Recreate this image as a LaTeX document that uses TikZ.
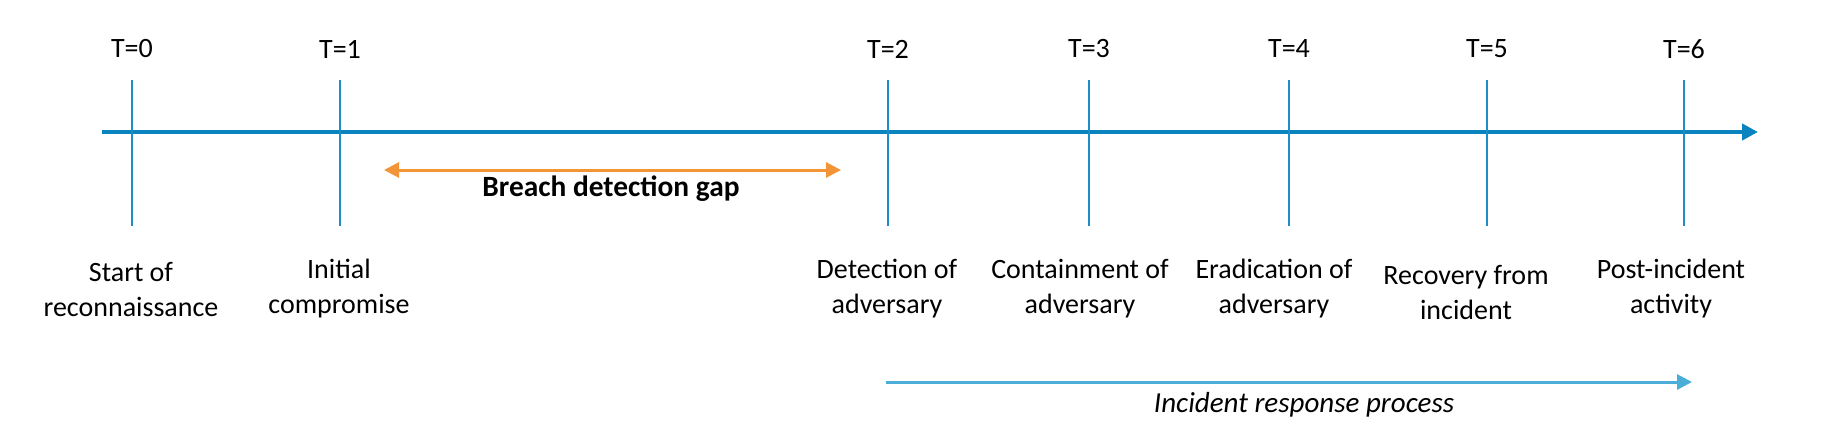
\documentclass[tikz,border=0pt]{standalone}
\usepackage{fontspec}
\setmainfont{Carlito}
\usetikzlibrary{arrows.meta}
\definecolor{axisblue}{HTML}{0A84BF}
\definecolor{tickblue}{HTML}{1E8DC6}
\definecolor{gaporange}{HTML}{F39436}
\definecolor{irblue}{HTML}{4BAED8}
\tikzset{
  lbl/.style={font=\fontsize{14}{17.5}\selectfont, align=center, inner sep=0pt},
  tick/.style={draw=tickblue, line width=0.6pt},
}

\begin{document}
\begin{tikzpicture}[x=0.5pt, y=-0.5pt]
	\useasboundingbox (0,0) rectangle (1834,434);

	% time axis
	\coordinate (axisstart) at (102,132);
	\coordinate (axisend) at (1758,132);
	\draw[axisblue, line width=2.4pt, -{Triangle[length=8pt,width=8pt]}] (axisstart) -- (axisend);

	% ticks
	\node[lbl] (t0) at (132,49) {T=0};
	\node[lbl] (t1) at (340,49) {T=1};
	\node[lbl] (t2) at (888,49) {T=2};
	\node[lbl] (t3) at (1089,49) {T=3};
	\node[lbl] (t4) at (1289,49) {T=4};
	\node[lbl] (t5) at (1487,49) {T=5};
	\node[lbl] (t6) at (1684,49) {T=6};

	\coordinate (t0a) at (132,80);  \coordinate (t0b) at (132,226);
	\coordinate (t1a) at (340,80);  \coordinate (t1b) at (340,226);
	\coordinate (t2a) at (888,80);  \coordinate (t2b) at (888,226);
	\coordinate (t3a) at (1089,80); \coordinate (t3b) at (1089,226);
	\coordinate (t4a) at (1289,80); \coordinate (t4b) at (1289,226);
	\coordinate (t5a) at (1487,80); \coordinate (t5b) at (1487,226);
	\coordinate (t6a) at (1684,80); \coordinate (t6b) at (1684,226);

	\draw[tick] (t0a) -- (t0b);
	\draw[tick] (t1a) -- (t1b);
	\draw[tick] (t2a) -- (t2b);
	\draw[tick] (t3a) -- (t3b);
	\draw[tick] (t4a) -- (t4b);
	\draw[tick] (t5a) -- (t5b);
	\draw[tick] (t6a) -- (t6b);

	% events
	\node[lbl] (e0) at (131,289) {Start of\\reconnaissance};
	\node[lbl] (e1) at (339,289) {Initial\\compromise};
	\node[lbl] (e2) at (887,289) {Detection of\\adversary};
	\node[lbl] (e3) at (1080,289) {Containment of\\adversary};
	\node[lbl] (e4) at (1274,289) {Eradication of\\adversary};
	\node[lbl] (e5) at (1466,292) {Recovery from\\incident};
	\node[lbl] (e6) at (1671,289) {Post-incident\\activity};

	% breach detection gap
	\coordinate (gapstart) at (384,170);
	\coordinate (gapend) at (841,170);
	\draw[gaporange, line width=1.5pt, {Triangle[length=7.5pt,width=7.5pt]}-{Triangle[length=7.5pt,width=7.5pt]}] (gapstart) -- (gapend);
	\node[lbl, font=\fontsize{14.7}{17.5}\selectfont\bfseries] (gap) at (611,189) {Breach detection gap};

	% incident response
	\coordinate (irstart) at (886,382);
	\coordinate (irend) at (1692,382);
	\draw[irblue, line width=1.5pt, -{Triangle[length=7.5pt,width=7.5pt]}] (irstart) -- (irend);
	\node[lbl, font=\fontsize{14.5}{17.5}\selectfont\itshape] (ir) at (1304,405) {Incident response process};

\end{tikzpicture}
\end{document}
